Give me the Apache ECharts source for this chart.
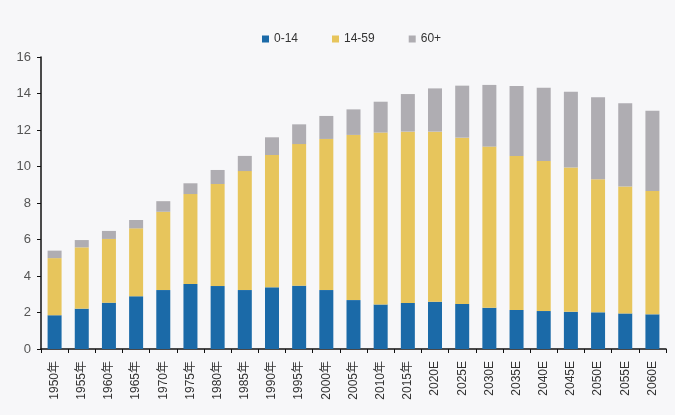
<!DOCTYPE html>
<html>
<head>
<meta charset="utf-8">
<script src="https://cdn.jsdelivr.net/npm/echarts@6/dist/echarts.min.js"></script>
<style>
html,body{margin:0;padding:0;background:#f7f7f9;}
#chart{width:675px;height:415px;}
</style>
</head>
<body>
<div id="chart"></div>
<script>
const categories = ['1950年','1955年','1960年','1965年','1970年','1975年','1980年','1985年','1990年','1995年','2000年','2005年','2010年','2015年','2020E','2025E','2030E','2035E','2040E','2045E','2050E','2055E','2060E'];
const age0_14  = [1.85, 2.21, 2.54, 2.89, 3.23, 3.56, 3.45, 3.23, 3.38, 3.47, 3.23, 2.68, 2.44, 2.52, 2.59, 2.47, 2.26, 2.14, 2.08, 2.04, 2.01, 1.95, 1.90];
const age15_59 = [3.13, 3.36, 3.49, 3.72, 4.29, 4.93, 5.59, 6.52, 7.25, 7.76, 8.28, 9.05, 9.42, 9.39, 9.32, 9.11, 8.83, 8.44, 8.22, 7.91, 7.29, 6.95, 6.76];
const age60p   = [0.41, 0.40, 0.44, 0.46, 0.58, 0.59, 0.77, 0.83, 0.97, 1.08, 1.26, 1.40, 1.69, 2.06, 2.37, 2.85, 3.38, 3.83, 4.02, 4.15, 4.49, 4.56, 4.40];
const yTicks = [0, 2, 4, 6, 8, 10, 12, 14, 16];

const font = "'Liberation Sans', 'Noto Sans CJK SC', sans-serif";
const chart = echarts.init(document.getElementById('chart'));
chart.setOption({
  backgroundColor: '#f7f7f9',
  animation: false,
  textStyle: { fontFamily: font },
  legend: {
    top: 28,
    left: 257,
    itemWidth: 7,
    itemHeight: 7,
    itemGap: 34,
    icon: 'rect',
    textStyle: { fontSize: 12, color: '#333', fontFamily: font },
    data: ['0-14', '14-59', '60+']
  },
  grid: { left: 41, right: 9, top: 57, bottom: 66, containLabel: false },
  xAxis: {
    type: 'category',
    data: categories,
    axisLine: { lineStyle: { color: '#111', width: 1.5 } },
    axisTick: { show: true, alignWithLabel: false, length: 4, lineStyle: { color: '#111' } },
    axisLabel: { rotate: 90, fontSize: 12, color: '#333', margin: 12, interval: 0, fontFamily: font }
  },
  yAxis: {
    type: 'value',
    min: yTicks[0],
    max: yTicks[yTicks.length - 1],
    interval: 2,
    splitLine: { show: false },
    axisLine: { show: true, lineStyle: { color: '#111', width: 1.5 } },
    axisTick: { show: true, length: 4, lineStyle: { color: '#111' } },
    axisLabel: { fontSize: 13, color: '#555', margin: 10, fontFamily: font }
  },
  series: [
    { name: '0-14', type: 'bar', stack: 'pop', data: age0_14, barWidth: 14, itemStyle: { color: '#1b6aa8' } },
    { name: '14-59', type: 'bar', stack: 'pop', data: age15_59, barWidth: 14, itemStyle: { color: '#e7c55c' } },
    { name: '60+', type: 'bar', stack: 'pop', data: age60p, barWidth: 14, itemStyle: { color: '#afadb2' } }
  ]
});
</script>
</body>
</html>
